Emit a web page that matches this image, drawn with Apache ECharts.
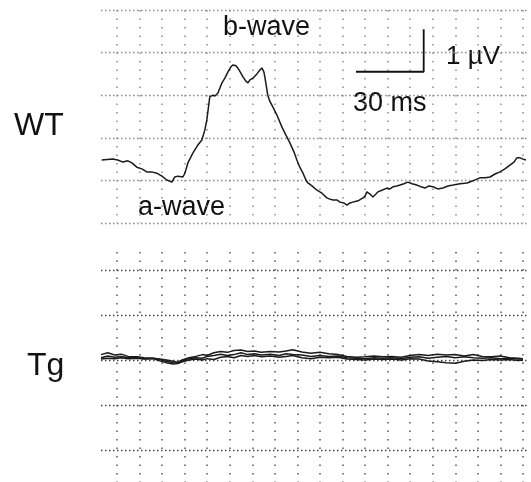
<!DOCTYPE html>
<html>
<head>
<meta charset="utf-8">
<style>
    html, body { margin: 0; padding: 0; background: #fff; }
    #erg { width: 531px; height: 482px; }
</style>
<script src="https://cdn.jsdelivr.net/npm/echarts@6/dist/echarts.min.js"></script>
</head>
<body>
<div id="erg"></div>
<script>
// time in ms, amplitude in µV
var wtTrace = [
    [-6.7,-0.52],[-1.8,-0.50],[0.4,-0.52],[2.7,-0.57],[4.9,-0.54],[6.7,-0.59],[8.9,-0.69],[11.1,-0.73],
    [13.3,-0.80],[15.5,-0.80],[17.7,-0.83],[20.0,-0.90],[22.2,-0.99],[24.4,-1.04],[25.7,-0.92],[27.1,-0.90],
    [27.9,-0.87],[29.3,-0.92],[30.2,-0.83],[31.5,-0.59],[33.7,-0.36],[35.9,-0.17],[37.7,-0.05],[39.0,0.18],
    [39.9,0.42],[41.2,0.96],[42.6,1.00],[43.5,0.98],[44.8,1.05],[45.7,1.17],[46.6,1.29],[47.9,1.40],
    [49.2,1.54],[50.5,1.66],[51.4,1.71],[52.8,1.69],[53.6,1.64],[55.0,1.52],[55.9,1.43],[57.2,1.33],
    [58.1,1.29],[59.0,1.36],[60.3,1.40],[62.1,1.50],[63.4,1.59],[64.3,1.64],[65.2,1.54],[65.6,1.43],
    [66.9,1.00],[67.8,0.86],[69.2,0.72],[70.9,0.54],[73.2,0.25],[74.9,0.07],[76.7,-0.12],[78.5,-0.33],
    [79.8,-0.52],[81.1,-0.69],[82.5,-0.83],[83.8,-0.99],[84.7,-1.06],[86.5,-1.13],[88.7,-1.23],[90.9,-1.30],
    [93.1,-1.41],[94.4,-1.44],[95.8,-1.46],[97.5,-1.46],[98.9,-1.51],[100.6,-1.53],[102.0,-1.58],[103.3,-1.53],
    [104.6,-1.51],[106.9,-1.48],[109.1,-1.41],[110.0,-1.37],[110.8,-1.27],[112.2,-1.32],[113.5,-1.39],[114.8,-1.32],
    [115.7,-1.27],[117.5,-1.23],[119.7,-1.18],[121.0,-1.20],[122.4,-1.15],[124.1,-1.13],[125.5,-1.11],[127.2,-1.08],
    [129.0,-1.04],[130.8,-1.08],[133.0,-1.11],[134.8,-1.15],[136.6,-1.18],[138.3,-1.13],[140.1,-1.15],[142.3,-1.20],
    [144.5,-1.18],[146.8,-1.13],[149.0,-1.11],[152.1,-1.08],[155.2,-1.06],[157.8,-1.01],[160.9,-0.94],[163.2,-0.94],
    [165.4,-0.92],[167.6,-0.85],[169.8,-0.80],[172.0,-0.73],[174.2,-0.64],[176.0,-0.57],[177.3,-0.47],[178.7,-0.47],
    [180.0,-0.50],[181.3,-0.52]
];

// Tg: three overlaid sweeps, almost flat
var tgTraceA = [
    [-7,0.12],[-4,0.16],[-1,0.11],[2,0.13],[5,0.08],[9,0.07],[12,0.05],[16,0.04],[19,0.02],[22,0.0],
    [25,-0.03],[27,-0.05],[29,0.0],[32,0.05],[35,0.08],[38,0.12],[40,0.10],[43,0.16],[46,0.19],[49,0.17],
    [52,0.21],[55,0.22],[58,0.19],[61,0.20],[64,0.17],[68,0.19],[72,0.18],[75,0.20],[78,0.23],[82,0.18],
    [86,0.15],[90,0.17],[94,0.14],[98,0.12],[102,0.08],[106,0.06],[110,0.07],[114,0.09],[118,0.07],[122,0.08],
    [126,0.06],[130,0.10],[134,0.12],[138,0.10],[142,0.13],[146,0.11],[150,0.12],[154,0.09],[158,0.12],[162,0.08],
    [166,0.07],[170,0.09],[174,0.05],[178,0.04],[180,0.03]
];
var tgTraceB = [
    [-7,0.05],[-4,0.09],[-1,0.06],[2,0.08],[5,0.05],[9,0.06],[12,0.03],[16,0.04],[19,0.01],[22,-0.03],
    [25,-0.06],[27,-0.07],[29,-0.02],[32,0.03],[35,0.05],[38,0.04],[40,0.08],[43,0.10],[46,0.13],[49,0.10],
    [52,0.12],[55,0.16],[58,0.12],[61,0.14],[64,0.11],[68,0.13],[72,0.10],[75,0.14],[78,0.12],[82,0.11],
    [86,0.08],[90,0.10],[94,0.08],[98,0.09],[102,0.05],[106,0.04],[110,0.03],[114,0.05],[118,0.04],[122,0.05],
    [126,0.03],[130,0.06],[134,0.07],[138,0.04],[142,0.06],[146,0.08],[150,0.05],[154,0.07],[158,0.05],[162,0.04],
    [166,0.05],[170,0.03],[174,0.04],[178,0.02],[180,0.03]
];
var tgTraceC = [
    [-7,0.02],[-4,0.04],[-1,0.03],[2,0.05],[5,0.03],[9,0.04],[12,0.02],[16,0.03],[19,-0.02],[22,-0.06],
    [25,-0.09],[27,-0.08],[29,-0.04],[32,0.0],[35,0.02],[38,0.0],[40,0.03],[43,0.01],[46,0.06],[49,0.08],
    [52,0.05],[55,0.10],[58,0.08],[61,0.10],[64,0.07],[68,0.09],[72,0.06],[75,0.08],[78,0.10],[82,0.05],
    [86,0.03],[90,0.06],[94,0.05],[98,0.06],[102,0.02],[106,0.01],[110,0.0],[114,0.02],[118,0.01],[122,0.02],
    [126,0.0],[130,0.03],[134,0.02],[138,-0.02],[142,-0.04],[146,-0.06],[150,-0.07],[154,-0.03],[158,0.0],[162,-0.01],
    [166,0.01],[170,0.0],[174,0.01],[178,-0.01],[180,0.0]
];

// scale bar: 30 ms x 1 µV, corner placed in the WT panel
var scaleBarMs = 30;
var scaleBarUv = 1;
var scaleBarStart = [106, 1.55];

var font = "'Liberation Sans', Arial, sans-serif";

var chart = echarts.init(document.getElementById("erg"), null, { renderer: "canvas" });

// hidden x axis used for the traces
function dataX(gridIndex) {
    return {
        type: "value", gridIndex: gridIndex, min: -7, max: 182,
        axisLine: { show: false }, axisTick: { show: false },
        axisLabel: { show: false }, splitLine: { show: false }
    };
}
// x axis that only draws the dotted 10 ms columns
function columnX(gridIndex, color) {
    return {
        type: "value", gridIndex: gridIndex, min: 0, max: 180, interval: 10,
        axisLine: { show: false }, axisTick: { show: false }, axisLabel: { show: false },
        splitLine: { show: true, lineStyle: { color: color, width: 1.5, type: [1.5, 7.0] } }
    };
}
function emptyY(gridIndex) {
    return {
        type: "value", gridIndex: gridIndex, min: 0, max: 1,
        axisLine: { show: false }, axisTick: { show: false },
        axisLabel: { show: false }, splitLine: { show: false }
    };
}
function traceSeries(data, xi, yi, width) {
    return {
        type: "line", xAxisIndex: xi, yAxisIndex: yi, data: data,
        showSymbol: false, clip: false, silent: true,
        lineStyle: { color: "#1b1b1b", width: width }
    };
}

chart.setOption({
    animation: false,
    grid: [
        { left: 101, right: 3.5, top: 10, height: 213 },   // WT traces
        { left: 117, right: 8, top: 10, height: 213 },     // WT columns
        { left: 101, right: 3.5, top: 225, height: 225 },  // Tg traces
        { left: 117, right: 8, top: 252, bottom: 0 }       // Tg columns
    ],
    xAxis: [dataX(0), columnX(1, "#8c8c8c"), dataX(2), columnX(3, "#555")],
    yAxis: [
        {
            type: "value", gridIndex: 0, min: -2, max: 3, interval: 1,
            axisLine: { show: false }, axisTick: { show: false }, axisLabel: { show: false },
            splitLine: { show: true, lineStyle: { color: "#8c8c8c", width: 1.3, type: [1.5, 2.5] } }
        },
        emptyY(1),
        {
            type: "value", gridIndex: 2, min: -2, max: 3, interval: 1,
            axisLine: { show: false }, axisTick: { show: false }, axisLabel: { show: false },
            splitLine: { show: true, showMaxLine: false, lineStyle: { color: "#444", width: 1.3, type: [1.5, 2.5] } }
        },
        emptyY(3)
    ],
    series: [
        traceSeries(wtTrace, 0, 0, 1.5),
        traceSeries(tgTraceA, 2, 2, 1.5),
        traceSeries(tgTraceB, 2, 2, 1.5),
        traceSeries(tgTraceC, 2, 2, 1.5),
        {
            type: "line", xAxisIndex: 0, yAxisIndex: 0, showSymbol: false, silent: true,
            lineStyle: { color: "#111", width: 1.8 },
            data: [
                scaleBarStart,
                [scaleBarStart[0] + scaleBarMs, scaleBarStart[1]],
                [scaleBarStart[0] + scaleBarMs, scaleBarStart[1] + scaleBarUv]
            ]
        }
    ],
    graphic: [
        { type: "text", left: 14, top: 110, style: { text: "WT", font: "32px " + font, fill: "#111" } },
        { type: "text", left: 27, top: 350, style: { text: "Tg", font: "32px " + font, fill: "#111" } },
        { type: "text", left: 223, top: 14, style: { text: "b-wave", font: "27px " + font, fill: "#111" } },
        { type: "text", left: 138, top: 194, style: { text: "a-wave", font: "27px " + font, fill: "#111" } },
        { type: "text", left: 446, top: 44, style: { text: "1 µV", font: "26px " + font, fill: "#111" } },
        { type: "text", left: 353, top: 90, style: { text: "30 ms", font: "27px " + font, fill: "#111" } }
    ]
});
</script>
</body>
</html>
